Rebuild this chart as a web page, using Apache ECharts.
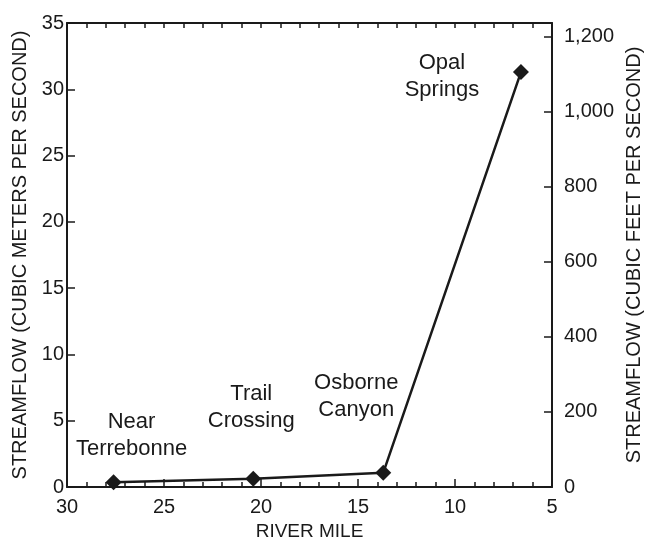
<!DOCTYPE html>
<html>
<head>
<meta charset="utf-8">
<script src="https://cdn.jsdelivr.net/npm/echarts@6/dist/echarts.min.js"></script>
<style>
html,body{margin:0;padding:0;background:#fff;}
#chart{width:648px;height:540px;}
</style>
</head>
<body>
<div id="chart"></div>
<script>
// Data
const siteNames = ['Near\nTerrebonne', 'Trail\nCrossing', 'Osborne\nCanyon', 'Opal\nSprings'];
const riverMile = [27.6, 20.4, 13.7, 6.6];
const flowCms = [0.35, 0.62, 1.07, 31.3];
const xTicks = [30, 25, 20, 15, 10, 5];
const leftTicks = [0, 5, 10, 15, 20, 25, 30, 35];
const rightTicks = [0, 200, 400, 600, 800, 1000, 1200];

const CFS_PER_CMS = 35.3147;
const ink = '#1a1a1a';
const font = 'Liberation Sans, Arial, Helvetica, sans-serif';

// label placement per site (styling, not data)
const labelOffsets = [[18, -7], [-2, -31], [-27, -36], [-79, 44]];

const seriesData = riverMile.map((x, i) => ({
  value: [x, flowCms[i]],
  label: {
    show: true,
    formatter: siteNames[i],
    position: 'top',
    offset: labelOffsets[i],
    align: 'center',
    fontSize: 22,
    lineHeight: 27,
    color: ink,
    fontFamily: font
  }
}));

const chart = echarts.init(document.getElementById('chart'));
const axisLabelStyle = { color: ink, fontSize: 20, fontFamily: font };

chart.setOption({
  animation: false,
  backgroundColor: '#fff',
  grid: { left: 67, right: 96, top: 23, bottom: 53, containLabel: false, outerBoundsMode: 'none' },
  xAxis: [
    {
      type: 'value', position: 'bottom', inverse: true,
      min: xTicks[xTicks.length - 1], max: xTicks[0], interval: 5,
      name: 'RIVER MILE', nameLocation: 'middle', nameGap: 33,
      nameTextStyle: { color: ink, fontSize: 19, fontFamily: font },
      axisLine: { show: true, onZero: false, lineStyle: { color: ink, width: 2 } },
      axisTick: { show: true, inside: true, length: 8, lineStyle: { color: ink, width: 1.5 } },
      minorTick: { show: true, splitNumber: 5, length: 5, lineStyle: { color: ink, width: 1.5 } },
      axisLabel: Object.assign({ margin: 10 }, axisLabelStyle),
      splitLine: { show: false }
    },
    {
      type: 'value', position: 'top', inverse: true,
      min: xTicks[xTicks.length - 1], max: xTicks[0], interval: 1,
      axisLine: { show: true, onZero: false, lineStyle: { color: ink, width: 2 } },
      axisTick: { show: true, inside: true, length: 5, lineStyle: { color: ink, width: 1.5 } },
      axisLabel: { show: false },
      splitLine: { show: false }
    }
  ],
  yAxis: [
    {
      type: 'value', position: 'left',
      min: leftTicks[0], max: leftTicks[leftTicks.length - 1], interval: 5,
      name: 'STREAMFLOW (CUBIC METERS PER SECOND)', nameLocation: 'middle', nameGap: 35,
      nameTextStyle: { color: ink, fontSize: 20, fontFamily: font },
      axisLine: { show: true, onZero: false, lineStyle: { color: ink, width: 2 } },
      axisTick: { show: true, inside: true, length: 8, lineStyle: { color: ink, width: 1.5 } },
      axisLabel: Object.assign({ margin: 3 }, axisLabelStyle),
      splitLine: { show: false }
    },
    {
      type: 'value', position: 'right',
      min: 0, max: leftTicks[leftTicks.length - 1] * CFS_PER_CMS, interval: 200,
      name: 'STREAMFLOW (CUBIC FEET PER SECOND)', nameLocation: 'middle', nameGap: 72,
      nameRotate: 90,
      nameTextStyle: { color: ink, fontSize: 20, fontFamily: font },
      axisLine: { show: true, onZero: false, lineStyle: { color: ink, width: 2 } },
      axisTick: { show: true, inside: true, length: 8, lineStyle: { color: ink, width: 1.5 } },
      axisLabel: Object.assign({
        margin: 12, showMaxLabel: false,
        formatter: v => rightTicks.indexOf(Math.round(v)) >= 0 && Math.abs(v - Math.round(v)) < 1e-6 ? echarts.format.addCommas(Math.round(v)) : ''
      }, axisLabelStyle),
      splitLine: { show: false }
    }
  ],
  series: [
    {
      type: 'line',
      xAxisIndex: 0, yAxisIndex: 0,
      data: seriesData,
      symbol: 'diamond',
      symbolSize: 16,
      lineStyle: { color: ink, width: 2.5 },
      itemStyle: { color: ink },
      z: 5
    }
  ]
});
</script>
</body>
</html>
